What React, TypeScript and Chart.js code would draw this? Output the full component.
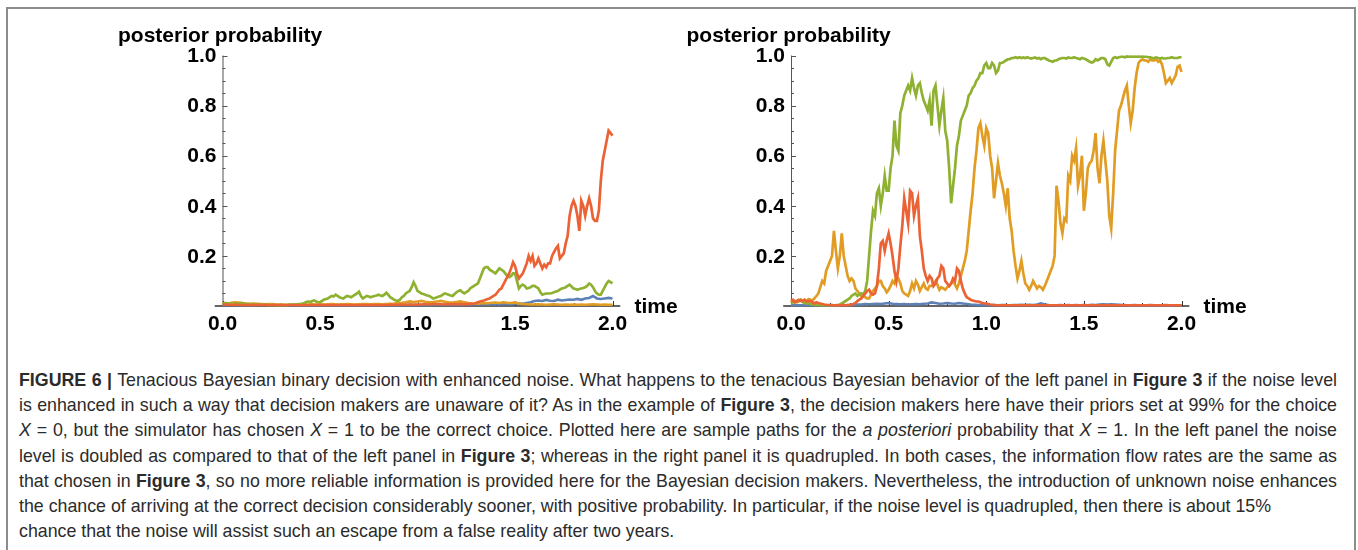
import React, { useEffect, useLayoutEffect, useRef } from "react";
import { Chart, registerables } from "chart.js";

Chart.register(...registerables);

// ---------- data ----------
const T_END = 2.0; // each series is sampled evenly from t = 0 to t = 2.0
const xTicks = [0, 0.5, 1.0, 1.5, 2.0];
const xTickLabels = ["0.0", "0.5", "1.0", "1.5", "2.0"];
const yTicks = [0.2, 0.4, 0.6, 0.8, 1.0];
const yTickLabels = ["0.2", "0.4", "0.6", "0.8", "1.0"];
const yAxisTitle = "posterior probability";
const xAxisTitle = "time";

// Left panel (noise doubled) — step 0.02
const leftBlue = [
  0.004, 0.004, 0.005, 0.004, 0.003, 0.004, 0.004, 0.003, 0.004, 0.004,
  0.004, 0.005, 0.006, 0.008, 0.005, 0.004, 0.003, 0.003, 0.004, 0.003,
  0.003, 0.004, 0.003, 0.003, 0.004, 0.003, 0.003, 0.004, 0.003, 0.003,
  0.003, 0.004, 0.003, 0.004, 0.003, 0.003, 0.004, 0.003, 0.004, 0.003,
  0.003, 0.004, 0.004, 0.003, 0.004, 0.003, 0.004, 0.004, 0.005, 0.004,
  0.005, 0.004, 0.005, 0.004, 0.005, 0.005, 0.006, 0.005, 0.006, 0.005,
  0.006, 0.005, 0.006, 0.007, 0.006, 0.007, 0.006, 0.007, 0.008, 0.007,
  0.008, 0.007, 0.008, 0.009, 0.008, 0.009, 0.01, 0.009, 0.012, 0.015,
  0.02, 0.022, 0.02, 0.024, 0.021, 0.02, 0.025, 0.022, 0.024, 0.026,
  0.025, 0.028, 0.025, 0.03, 0.032, 0.04, 0.03, 0.028, 0.03, 0.032,
  0.03,
];
const leftOrange = [
  0.008, 0.01, 0.012, 0.015, 0.014, 0.012, 0.01, 0.009, 0.01, 0.009,
  0.008, 0.007, 0.008, 0.007, 0.006, 0.006, 0.005, 0.006, 0.006, 0.005,
  0.005, 0.006, 0.006, 0.007, 0.006, 0.007, 0.006, 0.007, 0.008, 0.007,
  0.006, 0.007, 0.008, 0.007, 0.006, 0.007, 0.008, 0.008, 0.007, 0.008,
  0.008, 0.007, 0.008, 0.009, 0.01, 0.012, 0.013, 0.015, 0.018, 0.016,
  0.018, 0.02, 0.017, 0.015, 0.016, 0.018, 0.02, 0.017, 0.015, 0.014,
  0.016, 0.018, 0.015, 0.012, 0.01, 0.009, 0.01, 0.012, 0.011, 0.013,
  0.014, 0.012, 0.015, 0.013, 0.012, 0.014, 0.01, 0.008, 0.007, 0.006,
  0.006, 0.007, 0.006, 0.005, 0.006, 0.007, 0.006, 0.005, 0.006, 0.005,
  0.006, 0.005, 0.006, 0.005, 0.006, 0.007, 0.006, 0.005, 0.006, 0.005,
  0.005,
];
// step 0.01
const leftGreen = [
  0.01, 0.012, 0.012, 0.01, 0.01, 0.008, 0.008, 0.01, 0.01, 0.012,
  0.012, 0.01, 0.009, 0.008, 0.008, 0.007, 0.007, 0.006, 0.006, 0.006,
  0.006, 0.005, 0.005, 0.004, 0.004, 0.004, 0.004, 0.003, 0.003, 0.003,
  0.003, 0.003, 0.004, 0.004, 0.005, 0.005, 0.006, 0.006, 0.007, 0.008,
  0.008, 0.01, 0.012, 0.016, 0.018, 0.015, 0.02, 0.022, 0.018, 0.016,
  0.015, 0.02, 0.025, 0.028, 0.03, 0.035, 0.04, 0.038, 0.045, 0.04,
  0.035, 0.032, 0.03, 0.036, 0.04, 0.038, 0.035, 0.04, 0.045, 0.05,
  0.057, 0.04, 0.03, 0.035, 0.04, 0.038, 0.035, 0.038, 0.04, 0.042,
  0.045, 0.042, 0.04, 0.045, 0.053, 0.045, 0.035, 0.03, 0.025, 0.022,
  0.02, 0.025, 0.035, 0.04, 0.05, 0.055, 0.06, 0.075, 0.095, 0.08,
  0.06, 0.055, 0.05, 0.048, 0.045, 0.042, 0.04, 0.035, 0.03, 0.032,
  0.035, 0.038, 0.04, 0.045, 0.05, 0.048, 0.045, 0.042, 0.04, 0.048,
  0.055, 0.06, 0.063, 0.055, 0.05, 0.055, 0.06, 0.07, 0.075, 0.08,
  0.085, 0.09, 0.11, 0.13, 0.15, 0.155, 0.155, 0.145, 0.14, 0.135,
  0.13, 0.14, 0.15, 0.145, 0.14, 0.13, 0.12, 0.115, 0.12, 0.13,
  0.13, 0.1, 0.07, 0.08, 0.085, 0.08, 0.07, 0.072, 0.075, 0.08,
  0.08, 0.075, 0.07, 0.055, 0.045, 0.048, 0.05, 0.05, 0.05, 0.052,
  0.055, 0.058, 0.06, 0.065, 0.07, 0.072, 0.075, 0.08, 0.085, 0.078,
  0.07, 0.068, 0.065, 0.068, 0.07, 0.072, 0.075, 0.08, 0.09, 0.085,
  0.075, 0.06, 0.05, 0.045, 0.045, 0.06, 0.075, 0.09, 0.1, 0.095,
  0.09,
];
// step 0.01
const leftRed = [
  0.005, 0.006, 0.006, 0.005, 0.005, 0.004, 0.005, 0.006, 0.005, 0.004,
  0.005, 0.004, 0.004, 0.005, 0.004, 0.004, 0.005, 0.004, 0.004, 0.005,
  0.004, 0.004, 0.005, 0.004, 0.003, 0.004, 0.004, 0.003, 0.004, 0.004,
  0.003, 0.004, 0.004, 0.003, 0.004, 0.004, 0.003, 0.004, 0.004, 0.003,
  0.004, 0.003, 0.004, 0.004, 0.003, 0.004, 0.004, 0.003, 0.004, 0.004,
  0.003, 0.004, 0.004, 0.003, 0.004, 0.003, 0.004, 0.004, 0.003, 0.004,
  0.004, 0.003, 0.004, 0.004, 0.003, 0.004, 0.004, 0.003, 0.004, 0.004,
  0.004, 0.003, 0.004, 0.004, 0.004, 0.003, 0.004, 0.004, 0.004, 0.004,
  0.004, 0.004, 0.003, 0.004, 0.004, 0.004, 0.005, 0.005, 0.004, 0.005,
  0.005, 0.006, 0.006, 0.005, 0.006, 0.005, 0.006, 0.006, 0.005, 0.006,
  0.005, 0.006, 0.006, 0.007, 0.007, 0.006, 0.007, 0.007, 0.008, 0.008,
  0.007, 0.008, 0.007, 0.006, 0.006, 0.007, 0.007, 0.008, 0.007, 0.008,
  0.007, 0.006, 0.008, 0.007, 0.006, 0.008, 0.007, 0.009, 0.008, 0.01,
  0.012, 0.015, 0.018, 0.02, 0.022, 0.025, 0.028, 0.03, 0.035, 0.04,
  0.045, 0.055, 0.065, 0.07, 0.085, 0.1, 0.115, 0.13, 0.15, 0.175,
  0.16, 0.13, 0.11, 0.12, 0.13, 0.15, 0.17, 0.2, 0.18, 0.2,
  0.16, 0.17, 0.19, 0.17, 0.15, 0.165, 0.155, 0.17, 0.17, 0.2,
  0.215, 0.23, 0.24, 0.19, 0.2, 0.21, 0.25, 0.28, 0.36, 0.4,
  0.42, 0.4, 0.36, 0.3, 0.42, 0.4, 0.36, 0.4, 0.43, 0.4,
  0.35, 0.34, 0.34, 0.38, 0.5, 0.58, 0.62, 0.66, 0.7, 0.69,
  0.68,
];

// Right panel (noise quadrupled)
// step 0.02
const rightBlue = [
  0.003, 0.004, 0.003, 0.003, 0.004, 0.003, 0.003, 0.003, 0.004, 0.003,
  0.003, 0.003, 0.004, 0.003, 0.003, 0.004, 0.005, 0.006, 0.006, 0.008,
  0.007, 0.008, 0.009, 0.008, 0.01, 0.012, 0.009, 0.008, 0.007, 0.008,
  0.006, 0.007, 0.008, 0.007, 0.009, 0.01, 0.014, 0.012, 0.009, 0.01,
  0.012, 0.01, 0.009, 0.012, 0.01, 0.008, 0.006, 0.005, 0.004, 0.004,
  0.004, 0.003, 0.004, 0.003, 0.004, 0.004, 0.003, 0.004, 0.004, 0.005,
  0.004, 0.005, 0.004, 0.006, 0.01, 0.006, 0.004, 0.003, 0.003, 0.004,
  0.003, 0.004, 0.003, 0.004, 0.003, 0.004, 0.003, 0.005, 0.004, 0.006,
  0.007, 0.006, 0.007, 0.006, 0.005, 0.004, 0.003, 0.003, 0.004, 0.003,
  0.003, 0.003, 0.004, 0.003, 0.003, 0.003, 0.004, 0.003, 0.003, 0.003,
  0.003,
];
// step 0.01
const rightOrange = [
  0.015, 0.022, 0.02, 0.015, 0.018, 0.025, 0.022, 0.018, 0.02, 0.028,
  0.025, 0.022, 0.03, 0.04, 0.05, 0.075, 0.1, 0.09, 0.14, 0.16,
  0.18, 0.2, 0.3, 0.22, 0.15, 0.2, 0.29, 0.2, 0.16, 0.12,
  0.1, 0.11, 0.1, 0.07, 0.06, 0.05, 0.04, 0.045, 0.035, 0.03,
  0.03, 0.045, 0.06, 0.07, 0.08, 0.1, 0.1, 0.08, 0.07, 0.055,
  0.065, 0.08, 0.1, 0.09, 0.12, 0.11, 0.09, 0.06, 0.05, 0.045,
  0.04, 0.06, 0.09, 0.07, 0.1, 0.085, 0.06, 0.075, 0.09, 0.07,
  0.065, 0.08, 0.08, 0.09, 0.1, 0.085, 0.065, 0.075, 0.07, 0.065,
  0.075, 0.08, 0.09, 0.1, 0.085, 0.07, 0.09, 0.12, 0.15, 0.18,
  0.22, 0.3, 0.38, 0.45, 0.55, 0.62, 0.71, 0.73, 0.68, 0.64,
  0.71, 0.69, 0.6, 0.55, 0.43, 0.5, 0.57, 0.52, 0.49, 0.45,
  0.4, 0.47, 0.35, 0.3, 0.22, 0.16, 0.11, 0.14, 0.18, 0.13,
  0.09, 0.08, 0.065, 0.08, 0.1, 0.085, 0.07, 0.08, 0.075, 0.065,
  0.08, 0.1, 0.12, 0.14, 0.16, 0.2, 0.48, 0.42, 0.33, 0.29,
  0.35, 0.34, 0.52, 0.5, 0.6, 0.58, 0.63, 0.48, 0.52, 0.6,
  0.38, 0.45, 0.55, 0.57, 0.58, 0.62, 0.69, 0.55, 0.49, 0.6,
  0.66, 0.58, 0.5, 0.36, 0.31, 0.45, 0.62, 0.7, 0.78, 0.8,
  0.83, 0.86, 0.88, 0.8, 0.73, 0.78, 0.87, 0.93, 0.97, 0.98,
  0.985, 0.98, 0.98, 0.975, 0.985, 0.98, 0.98, 0.985, 0.975, 0.98,
  0.965, 0.93, 0.89, 0.9, 0.91, 0.89, 0.905, 0.92, 0.955, 0.96,
  0.935,
];
// step 0.01
const rightGreen = [
  0.01, 0.015, 0.015, 0.02, 0.02, 0.025, 0.015, 0.012, 0.01, 0.012,
  0.008, 0.006, 0.005, 0.004, 0.004, 0.003, 0.003, 0.003, 0.003, 0.003,
  0.003, 0.003, 0.003, 0.003, 0.003, 0.005, 0.01, 0.015, 0.02, 0.025,
  0.03, 0.04, 0.045, 0.05, 0.04, 0.045, 0.05, 0.045, 0.06, 0.1,
  0.2, 0.3, 0.38, 0.36, 0.45, 0.47, 0.4, 0.45, 0.52, 0.46,
  0.46, 0.55, 0.6, 0.74, 0.64, 0.62, 0.77, 0.8, 0.84, 0.86,
  0.88, 0.86, 0.91, 0.87, 0.84, 0.88, 0.89, 0.85, 0.82, 0.8,
  0.78, 0.82, 0.72, 0.86, 0.88, 0.8, 0.72, 0.78, 0.83, 0.7,
  0.66, 0.55, 0.41, 0.48, 0.55, 0.64, 0.68, 0.74, 0.76, 0.78,
  0.8, 0.84, 0.85, 0.87, 0.88, 0.9, 0.91, 0.93, 0.93, 0.96,
  0.97, 0.95, 0.95, 0.97, 0.96, 0.93, 0.94, 0.97, 0.97, 0.975,
  0.98, 0.985, 0.985, 0.99, 0.99, 0.993, 0.99, 0.993, 0.99, 0.992,
  0.99, 0.993, 0.99, 0.988, 0.99, 0.992, 0.988, 0.99, 0.985, 0.99,
  0.99, 0.985, 0.98, 0.978, 0.975, 0.98, 0.98, 0.985, 0.988, 0.99,
  0.99, 0.988, 0.992, 0.99, 0.99, 0.993, 0.99, 0.988, 0.985, 0.99,
  0.988, 0.985, 0.98, 0.975, 0.972, 0.975, 0.985, 0.98, 0.985, 0.99,
  0.99, 0.985, 0.965, 0.96, 0.975, 0.99, 0.993, 0.99, 0.993, 0.995,
  0.995, 0.993, 0.996, 0.995, 0.996, 0.995, 0.996, 0.995, 0.996, 0.995,
  0.996, 0.995, 0.995, 0.993, 0.993, 0.99, 0.99, 0.992, 0.99, 0.988,
  0.99, 0.988, 0.988, 0.99, 0.99, 0.993, 0.99, 0.99, 0.99, 0.993,
  0.993,
];
// step 0.01
const rightRed = [
  0.02, 0.025, 0.015, 0.02, 0.025, 0.02, 0.02, 0.025, 0.018, 0.02,
  0.02, 0.015, 0.01, 0.015, 0.012, 0.01, 0.008, 0.006, 0.005, 0.004,
  0.004, 0.004, 0.003, 0.003, 0.003, 0.004, 0.003, 0.004, 0.003, 0.004,
  0.004, 0.006, 0.008, 0.012, 0.02, 0.025, 0.03, 0.04, 0.05, 0.06,
  0.065, 0.05, 0.045, 0.05, 0.08, 0.15, 0.25, 0.26, 0.22, 0.26,
  0.29, 0.25, 0.2, 0.14, 0.1, 0.15, 0.24, 0.32, 0.43, 0.38,
  0.33, 0.46, 0.45, 0.36, 0.4, 0.43, 0.28, 0.22, 0.15, 0.12,
  0.1, 0.12, 0.11, 0.08, 0.09, 0.11, 0.12, 0.16, 0.15, 0.1,
  0.09, 0.08, 0.09, 0.11, 0.1, 0.15, 0.14, 0.1, 0.07, 0.05,
  0.035, 0.03, 0.025, 0.022, 0.02, 0.018, 0.018, 0.015, 0.012, 0.01,
  0.01, 0.008, 0.006, 0.005, 0.004, 0.003, 0.003, 0.003, 0.003, 0.003,
  0.003, 0.003, 0.003, 0.003, 0.003, 0.003, 0.003, 0.003, 0.003, 0.003,
  0.003, 0.003, 0.003, 0.003, 0.003, 0.003, 0.003, 0.003, 0.003, 0.003,
  0.003, 0.003, 0.003, 0.003, 0.003, 0.003, 0.003, 0.003, 0.003, 0.003,
  0.003, 0.003, 0.003, 0.003, 0.003, 0.003, 0.003, 0.003, 0.003, 0.003,
  0.003, 0.003, 0.003, 0.003, 0.003, 0.003, 0.003, 0.003, 0.003, 0.003,
  0.003, 0.003, 0.003, 0.003, 0.003, 0.003, 0.003, 0.003, 0.003, 0.003,
  0.003, 0.003, 0.003, 0.003, 0.003, 0.003, 0.003, 0.003, 0.003, 0.003,
  0.003, 0.003, 0.003, 0.003, 0.003, 0.003, 0.003, 0.003, 0.003, 0.003,
  0.003, 0.003, 0.003, 0.003, 0.003, 0.003, 0.003, 0.003, 0.003, 0.003,
  0.003,
];

const COLORS = {
  blue: "#5E81B5",
  orange: "#E19C24",
  green: "#8FB131",
  red: "#EB6235",
};

const LABEL_FONT = 'bold 21px "Liberation Sans", Arial, Helvetica, sans-serif';

type PanelProps = {
  left: number;
  top: number;
  width: number;
  height: number;
  padding: { left: number; right: number; top: number; bottom: number };
  blue: number[];
  orange: number[];
  green: number[];
  red: number[];
};

function toXY(values: number[]) {
  const step = T_END / (values.length - 1);
  return values.map((v, i) => ({ x: i * step, y: v }));
}

const axesPlugin = {
  id: "mmaAxes",
  beforeDatasetsDraw(chart: any) {
    const { ctx } = chart;
    const xs = chart.scales.x;
    const ys = chart.scales.y;
    const y0 = ys.getPixelForValue(0);
    const x0 = xs.getPixelForValue(0);
    ctx.save();
    ctx.strokeStyle = "#333333";
    ctx.lineWidth = 1.3;
    ctx.beginPath();
    ctx.moveTo(xs.getPixelForValue(-0.04), y0);
    ctx.lineTo(xs.getPixelForValue(2.04), y0);
    ctx.stroke();
    ctx.strokeStyle = "#555555";
    ctx.lineWidth = 1;
    ctx.beginPath();
    ctx.moveTo(x0 + 0.5, y0);
    ctx.lineTo(x0 + 0.5, ys.getPixelForValue(1));
    ctx.stroke();
    ctx.strokeStyle = "#333333";
    for (let k = 0; k <= 20; k++) {
      const px = Math.round(xs.getPixelForValue(k * 0.1)) + 0.5;
      const len = k % 5 === 0 ? 5 : 3;
      ctx.beginPath();
      ctx.moveTo(px, y0);
      ctx.lineTo(px, y0 - len);
      ctx.stroke();
    }
    ctx.strokeStyle = "#555555";
    for (let k = 1; k <= 20; k++) {
      const py = Math.round(ys.getPixelForValue(k * 0.05)) + 0.5;
      const len = k % 4 === 0 ? 5 : 3;
      ctx.beginPath();
      ctx.moveTo(x0, py);
      ctx.lineTo(x0 + len, py);
      ctx.stroke();
    }
    ctx.restore();
  },
  afterDraw(chart: any) {
    const { ctx } = chart;
    const xs = chart.scales.x;
    const ys = chart.scales.y;
    const y0 = ys.getPixelForValue(0);
    const x0 = xs.getPixelForValue(0);
    ctx.save();
    ctx.fillStyle = "#000000";
    ctx.font = LABEL_FONT;
    ctx.textAlign = "center";
    ctx.textBaseline = "middle";
    xTicks.forEach((v, i) => {
      ctx.fillText(xTickLabels[i], xs.getPixelForValue(v), y0 + 18);
    });
    ctx.textAlign = "right";
    yTicks.forEach((v, i) => {
      ctx.fillText(yTickLabels[i], x0 - 6, ys.getPixelForValue(v) + 1);
    });
    ctx.textAlign = "left";
    ctx.fillText(yAxisTitle, x0 - 104.5, ys.getPixelForValue(1) - 19);
    ctx.fillText(xAxisTitle, xs.getPixelForValue(2) + 22, y0 + 1);
    ctx.restore();
  },
};

function Panel(props: PanelProps) {
  const ref = useRef<HTMLCanvasElement>(null);
  useEffect(() => {
    if (!ref.current) return;
    const chart = new Chart(ref.current, {
      type: "line",
      data: {
        datasets: [
          { data: toXY(props.red), borderColor: COLORS.red, order: 0 },
          { data: toXY(props.green), borderColor: COLORS.green, order: 1 },
          { data: toXY(props.orange), borderColor: COLORS.orange, order: 2 },
          { data: toXY(props.blue), borderColor: COLORS.blue, order: 3 },
        ] as any,
      },
      options: {
        responsive: false,
        animation: false,
        devicePixelRatio: 1,
        layout: { padding: props.padding },
        elements: {
          point: { radius: 0 },
          line: { borderWidth: 2.7, tension: 0, fill: false, borderJoinStyle: "miter" },
        },
        datasets: { line: { clip: false } } as any,
        scales: {
          x: { type: "linear", min: 0, max: 2, display: false },
          y: { type: "linear", min: 0, max: 1, display: false },
        },
        plugins: {
          legend: { display: false },
          tooltip: { enabled: false },
        },
      },
      plugins: [axesPlugin],
    });
    return () => chart.destroy();
  }, []);
  return (
    <canvas
      ref={ref}
      width={props.width}
      height={props.height}
      style={{
        position: "absolute",
        left: props.left,
        top: props.top,
        width: props.width,
        height: props.height,
      }}
    />
  );
}

const captionFont = '"Liberation Sans", Arial, Helvetica, sans-serif';
const CAPTION_WIDTH = 1318;

function CaptionLine(props: { justify: boolean; children: React.ReactNode }) {
  const ref = useRef<HTMLSpanElement>(null);
  useLayoutEffect(() => {
    const el = ref.current;
    if (!el || !props.justify) return;
    el.style.wordSpacing = "0px";
    const w = el.getBoundingClientRect().width;
    const spaces = (el.textContent || "").split(" ").length - 1;
    if (spaces > 0) el.style.wordSpacing = (CAPTION_WIDTH - w) / spaces + "px";
  }, []);
  return (
    <div style={{ height: 25.2, lineHeight: "25.2px", whiteSpace: "nowrap" }}>
      <span ref={ref}>{props.children}</span>
    </div>
  );
}

export default function App() {
  const B = (s: string) => <b style={{ fontWeight: 700 }}>{s}</b>;
  const I = (s: string) => <i>{s}</i>;
  return (
    <div
      style={{
        position: "absolute",
        left: 0,
        top: 0,
        width: 1358,
        height: 550,
        overflow: "hidden",
        background: "#ffffff",
      }}
    >
      <div
        style={{
          position: "absolute",
          left: 6,
          top: 7,
          width: 1346,
          height: 600,
          border: "2px solid #8c8c8c",
        }}
      />
      <Panel
        left={100}
        top={10}
        width={600}
        height={350}
        padding={{ left: 122.5, right: 87.5, top: 45.5, bottom: 54 }}
        blue={leftBlue}
        orange={leftOrange}
        green={leftGreen}
        red={leftRed}
      />
      <Panel
        left={670}
        top={10}
        width={620}
        height={350}
        padding={{ left: 121, right: 108.5, top: 45.5, bottom: 54 }}
        blue={rightBlue}
        orange={rightOrange}
        green={rightGreen}
        red={rightRed}
      />
      <div
        style={{
          position: "absolute",
          left: 19,
          top: 368,
          width: CAPTION_WIDTH,
          fontFamily: captionFont,
          fontSize: 17.8,
          color: "#2b2b2b",
        }}
      >
        <CaptionLine justify={true}>
          {B("FIGURE 6 |")} Tenacious Bayesian binary decision with enhanced noise. What happens to the tenacious Bayesian behavior of the left panel in {B("Figure 3")} if the noise level
        </CaptionLine>
        <CaptionLine justify={true}>
          is enhanced in such a way that decision makers are unaware of it? As in the example of {B("Figure 3")}, the decision makers here have their priors set at 99% for the choice
        </CaptionLine>
        <CaptionLine justify={true}>
          {I("X")} = 0, but the simulator has chosen {I("X")} = 1 to be the correct choice. Plotted here are sample paths for the {I("a posteriori")} probability that {I("X")} = 1. In the left panel the noise
        </CaptionLine>
        <CaptionLine justify={true}>
          level is doubled as compared to that of the left panel in {B("Figure 3")}; whereas in the right panel it is quadrupled. In both cases, the information flow rates are the same as
        </CaptionLine>
        <CaptionLine justify={true}>
          that chosen in {B("Figure 3")}, so no more reliable information is provided here for the Bayesian decision makers. Nevertheless, the introduction of unknown noise enhances
        </CaptionLine>
        <CaptionLine justify={false}>
          the chance of arriving at the correct decision considerably sooner, with positive probability. In particular, if the noise level is quadrupled, then there is about 15%
        </CaptionLine>
        <CaptionLine justify={false}>
          chance that the noise will assist such an escape from a false reality after two years.
        </CaptionLine>
      </div>
    </div>
  );
}
